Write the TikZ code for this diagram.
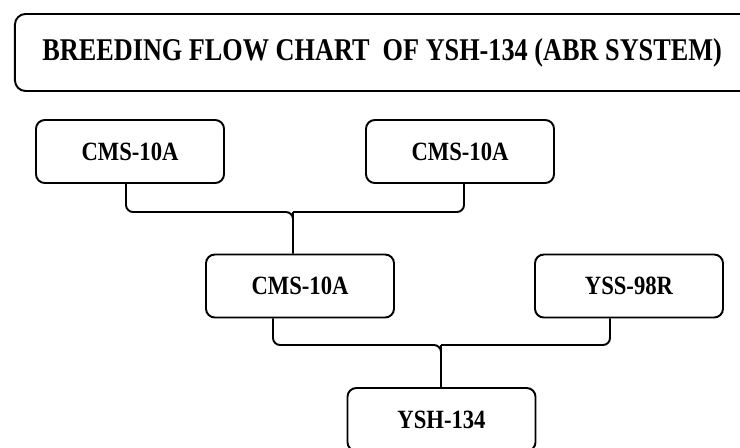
\documentclass[tikz,border=0pt]{standalone}
\usepackage{fontspec}
\setmainfont{Liberation Serif}[FakeStretch=0.86]
\newfontfamily\titlefont{Liberation Serif}[FakeStretch=0.83]
\usepackage{tikz}
\usetikzlibrary{arrows.meta}

\tikzset{
  linebox/.style={draw, line width=1.1pt, rounded corners=5pt, minimum width=3.76cm, minimum height=1.26cm, font=\bfseries\fontsize{15}{17}\selectfont},
  titlebox/.style={draw, line width=1.1pt, rounded corners=6pt},
  cross/.style={line width=1.1pt, rounded corners=4pt}
}

\begin{document}
\begin{tikzpicture}
   \useasboundingbox (0,0) rectangle (14.8,-8.94);

   \node[titlebox, anchor=north west, minimum width=15cm, minimum height=1.54cm] (title) at (0.28,-0.26) {};
   \node[anchor=west, inner sep=0pt, font=\titlefont\bfseries\fontsize{18}{20}\selectfont] (titletext) at (0.84,-1.05) {BREEDING FLOW CHART \ OF YSH-134 (ABR SYSTEM)};

   %parents
   \node[linebox] (p1) at (2.6,-3.03) {CMS-10A};
   \node[linebox] (p2) at (9.2,-3.03) {CMS-10A};
   \node[linebox] (f1) at (6.0,-5.72) {CMS-10A};
   \node[linebox] (r1) at (12.58,-5.72) {YSS-98R};
   \node[linebox] (h1) at (8.83,-8.39) {YSH-134};

   %crosses
   \coordinate (j1) at (5.86,-4.24);
   \coordinate (j2) at (8.82,-6.9);
   \draw[cross] ([xshift=-0.08cm]p1.south) |- (j1) -- (j1 |- f1.north);
   \draw[cross] ([xshift=0.08cm]p2.south) |- (j1);
   \draw[line width=1.1pt, shorten >=0.12cm] (j1) -- (j1 |- f1.north);
   \draw[cross] ([xshift=-0.54cm]f1.south) |- (j2) -- (j2 |- h1.north);
   \draw[cross] ([xshift=-0.38cm]r1.south) |- (j2);
   \draw[line width=1.1pt, shorten >=0.16cm] (j2) -- (j2 |- h1.north);

\end{tikzpicture}
\end{document}
